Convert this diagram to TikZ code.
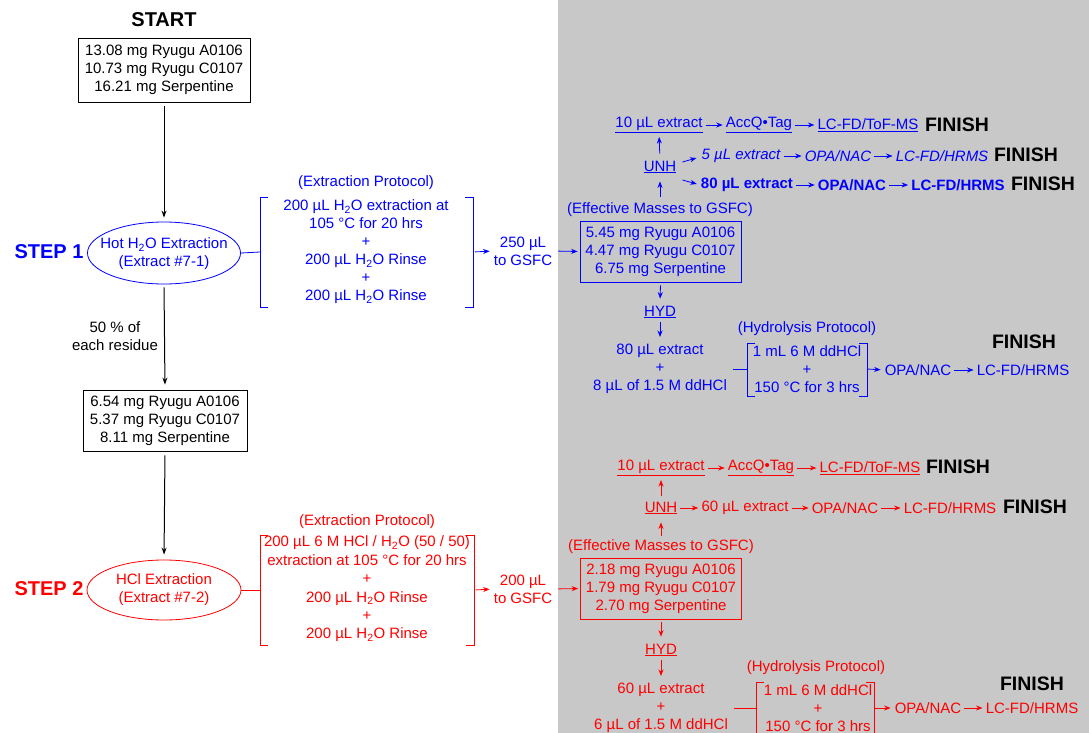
\documentclass[tikz,border=0pt]{standalone}
\usepackage{fontspec}
\setmainfont{Liberation Sans}
\usetikzlibrary{arrows.meta,shapes.geometric}
\definecolor{bl}{RGB}{0,0,255}
\definecolor{rd}{RGB}{255,0,0}
\definecolor{panel}{RGB}{200,200,200}
\begin{document}
\begin{tikzpicture}[x=1pt,y=-1pt,
  t/.style={inner sep=0pt,align=center,font=\fontsize{15}{18}\selectfont},
  hd/.style={inner sep=0pt,font=\fontsize{20}{24}\selectfont\bfseries},
  fin/.style={inner sep=0pt,font=\fontsize{19.5}{24}\selectfont\bfseries,text=black},
  arr/.style={-{Stealth[length=6.5pt,width=5pt]},line width=0.8pt},
  barr/.style={-{Stealth[length=7pt,width=5pt]},line width=1pt},
  ra/.style={arr,shorten <=3pt,shorten >=3pt},
  brk/.style={line width=0.8pt},
  mbox/.style={t,draw,line width=0.8pt,minimum width=161pt,minimum height=61pt},
  oval/.style={ellipse,draw,line width=0.8pt,minimum width=153pt,minimum height=62pt,inner sep=0pt},
]
\useasboundingbox (0,0) rectangle (1089,733);
\fill[panel] (558,0) rectangle (1089,733);

% ---------------- left column ----------------
\node[hd] (start) at (164,20) {START};
\node[t,draw,line width=0.8pt,minimum width=172pt,minimum height=64pt] (m1) at (164,70)
  {13.08 mg Ryugu A0106\\10.73 mg Ryugu C0107\\16.21 mg Serpentine};
\node[oval,draw=bl] (e1) at (164,253) {};
\node[t,text=bl] (e1t) at (164,254) {Hot H\textsubscript{2}O Extraction\\(Extract \#7-1)};
\node[hd,text=bl] (s1) at (49,252) {STEP 1};
\draw[barr,shorten <=4pt,shorten >=4pt] (m1.south) -- (e1.north);

\node[t] (res) at (115,336) {50 \% of\\each residue};
\node[t,draw,line width=0.8pt,minimum width=164pt,minimum height=61pt] (m2) at (165,420.5)
  {6.54 mg Ryugu A0106\\5.37 mg Ryugu C0107\\8.11 mg Serpentine};
\draw[barr,shorten <=3pt,shorten >=5pt] (e1.south) -- (m2.north);

\node[oval,draw=rd,minimum height=60pt,minimum width=154pt] (e2) at (164,590) {};
\node[t,text=rd] (e2t) at (164,590) {HCl Extraction\\(Extract \#7-2)};
\node[hd,text=rd] (s2) at (49,589) {STEP 2};
\draw[barr,shorten <=4pt,shorten >=5pt] (m2.south) -- (e2.north);

% ---------------- step 1 protocol ----------------
\node[t,text=bl] (ep1) at (366,183) {(Extraction Protocol)};
\node[t,text=bl] (pr1) at (366,252) {200 µL H\textsubscript{2}O extraction at\\105 °C for 20 hrs\\+\\200 µL H\textsubscript{2}O Rinse\\+\\200 µL H\textsubscript{2}O Rinse};
\draw[bl,brk] (268,197) -- (260,197) -- (260,307) -- (268,307);
\draw[bl,brk] (465,197) -- (473,197) -- (473,307) -- (465,307);
\coordinate (b1L) at (260,252);
\coordinate (b1R) at (473,252);
\draw[bl,brk] (e1.east) -- (b1L);
\node[t,text=bl] (g1) at (523,251) {250 µL\\to GSFC};
\draw[arr,bl,shorten <=2pt,shorten >=4pt] (b1R) -- (g1.west);

% ---------------- step 2 protocol ----------------
\node[t,text=rd] (ep2) at (367,522) {(Extraction Protocol)};
\node[t,text=rd,font=\fontsize{15}{18.4}\selectfont] (pr2) at (367,589) {200 µL 6 M HCl / H\textsubscript{2}O (50 / 50)\\extraction at 105 °C for 20 hrs\\+\\200 µL H\textsubscript{2}O Rinse\\+\\200 µL H\textsubscript{2}O Rinse};
\draw[rd,brk] (268,535) -- (260,535) -- (260,645) -- (268,645);
\draw[rd,brk] (466,535) -- (474,535) -- (474,645) -- (466,645);
\coordinate (b2L) at (260,590);
\coordinate (b2R) at (474,590);
\draw[rd,brk] (e2.east) -- (b2L);
\node[t,text=rd] (g2) at (523,589) {200 µL\\to GSFC};
\draw[arr,rd,shorten <=2pt,shorten >=4pt] (b2R) -- (g2.west);

% ---------------- blue panel part ----------------
\node[mbox,draw=bl,text=bl] (bm1) at (660.5,251.5) {5.45 mg Ryugu A0106\\4.47 mg Ryugu C0107\\6.75 mg Serpentine};
\draw[arr,bl,shorten <=6pt,shorten >=2pt] (g1.east) -- (bm1.west);
\node[t,text=bl] (em1) at (660,210) {(Effective Masses to GSFC)};
\node[t,text=bl] (unh1) at (660,167) {\underline{UNH}};
\draw[arr,bl,shorten <=6pt,shorten >=8pt] (em1.north) -- (unh1.south);

\node[t,text=bl] (b10) at (659,125) {\underline{10 µL extract}};
\node[t,text=bl] (bacc) at (759,125) {\underline{AccQ•Tag}};
\node[t,text=bl] (blc) at (868,125) {\underline{LC-FD/ToF-MS}};
\node[fin] (bf1) at (957,125) {FINISH};
\draw[arr,bl,shorten <=7pt,shorten >=4pt] (unh1.north) -- (b10.south);
\draw[ra,bl] (b10.east) -- (bacc.west);
\draw[ra,bl] (bacc.east) -- (blc.west);

\node[t,text=bl,font=\fontsize{15}{18}\selectfont\itshape] (b5) at (741,156) {5 µL extract};
\node[t,text=bl,font=\fontsize{15}{18}\selectfont\itshape] (bopa2) at (838,156) {OPA/NAC};
\node[t,text=bl,font=\fontsize{15}{18}\selectfont\itshape] (blc2) at (942,156) {LC-FD/HRMS};
\node[fin] (bf2) at (1026,155) {FINISH};
\draw[arr,bl] ([shift={(6,-5)}]unh1.east) -- ([shift={(-5,2)}]b5.west);
\draw[ra,bl] (b5.east) -- (bopa2.west);
\draw[ra,bl] (bopa2.east) -- (blc2.west);

\node[t,text=bl,font=\fontsize{15}{18}\selectfont\bfseries] (b80) at (747,185) {80 µL extract};
\node[t,text=bl,font=\fontsize{15}{18}\selectfont\bfseries] (bopa3) at (852,185) {OPA/NAC};
\node[t,text=bl,font=\fontsize{15}{18}\selectfont\bfseries] (blc3) at (958,185) {LC-FD/HRMS};
\node[fin] (bf3) at (1043,184) {FINISH};
\draw[arr,bl] ([shift={(6,13)}]unh1.east) -- ([shift={(-4,-1)}]b80.west);
\draw[ra,bl] (b80.east) -- (bopa3.west);
\draw[ra,bl] (bopa3.east) -- (blc3.west);

\node[t,text=bl] (hyd1) at (660,312) {\underline{HYD}};
\draw[arr,bl,shorten <=3pt,shorten >=7pt] (bm1.south) -- (hyd1.north);
\node[t,text=bl] (x80) at (660,369) {80 µL extract\\+\\8 µL of 1.5 M ddHCl};
\draw[arr,bl,shorten <=4pt,shorten >=7pt] (hyd1.south) -- (x80.north);
\node[t,text=bl] (hp1t) at (807,329) {(Hydrolysis Protocol)};
\node[t,text=bl] (hp1) at (807,369) {1 mL 6 M ddHCl\\+\\150 °C for 3 hrs};
\draw[bl,brk] (755,343) -- (747,343) -- (747,396) -- (755,396);
\draw[bl,brk] (859,343) -- (867,343) -- (867,396) -- (859,396);
\coordinate (h1L) at (747,369);
\coordinate (h1R) at (867,369);
\draw[bl,brk,shorten <=6pt] (x80.east) -- (h1L);
\node[t,text=bl] (hopa1) at (918,370) {OPA/NAC};
\node[t,text=bl] (hlc1) at (1023,370) {LC-FD/HRMS};
\node[fin] (hf1) at (1024,342) {FINISH};
\draw[arr,bl,shorten >=4pt] (h1R) -- (hopa1.west);
\draw[ra,bl] (hopa1.east) -- (hlc1.west);

% ---------------- red panel part ----------------
\node[mbox,draw=rd,text=rd] (bm2) at (661,588.5) {2.18 mg Ryugu A0106\\1.79 mg Ryugu C0107\\2.70 mg Serpentine};
\draw[arr,rd,shorten <=6pt,shorten >=2pt] (g2.east) -- (bm2.west);
\node[t,text=rd] (em2) at (661,547) {(Effective Masses to GSFC)};
\node[t,text=rd] (unh2) at (661,508) {\underline{UNH}};
\draw[arr,rd,shorten <=4pt,shorten >=8pt] (em2.north) -- (unh2.south);

\node[t,text=rd] (r10) at (661,468) {\underline{10 µL extract}};
\node[t,text=rd] (racc) at (761,468) {\underline{AccQ•Tag}};
\node[t,text=rd] (rlc) at (870,468) {\underline{LC-FD/ToF-MS}};
\node[fin] (rf1) at (958,467) {FINISH};
\draw[arr,rd,shorten <=6pt,shorten >=4pt] (unh2.north) -- (r10.south);
\draw[ra,rd] (r10.east) -- (racc.west);
\draw[ra,rd] (racc.east) -- (rlc.west);

\node[t,text=rd] (r60) at (745,508) {60 µL extract};
\node[t,text=rd] (ropa) at (845,508) {OPA/NAC};
\node[t,text=rd] (rlc2) at (950,508) {LC-FD/HRMS};
\node[fin] (rf2) at (1035,507) {FINISH};
\draw[ra,rd] (unh2.east) -- (r60.west);
\draw[ra,rd] (r60.east) -- (ropa.west);
\draw[ra,rd] (ropa.east) -- (rlc2.west);

\node[t,text=rd] (hyd2) at (661,650) {\underline{HYD}};
\draw[arr,rd,shorten <=3pt,shorten >=7pt] (bm2.south) -- (hyd2.north);
\node[t,text=rd] (x60) at (661,708) {60 µL extract\\+\\6 µL of 1.5 M ddHCl};
\draw[arr,rd,shorten <=4pt,shorten >=7pt] (hyd2.south) -- (x60.north);
\node[t,text=rd] (hp2t) at (816,668) {(Hydrolysis Protocol)};
\node[t,text=rd] (hp2) at (818,708) {1 mL 6 M ddHCl\\+\\150 °C for 3 hrs};
\draw[rd,brk] (764,682) -- (756,682) -- (756,745);
\draw[rd,brk] (866,682) -- (874,682) -- (874,745);
\coordinate (h2L) at (756,708);
\coordinate (h2R) at (874,708);
\draw[rd,brk,shorten <=6pt] (x60.east) -- (h2L);
\node[t,text=rd] (hopa2) at (928,708) {OPA/NAC};
\node[t,text=rd] (hlc2) at (1032,708) {LC-FD/HRMS};
\node[fin] (hf2) at (1032,684) {FINISH};
\draw[arr,rd,shorten >=4pt] (h2R) -- (hopa2.west);
\draw[ra,rd] (hopa2.east) -- (hlc2.west);
\end{tikzpicture}
\end{document}
